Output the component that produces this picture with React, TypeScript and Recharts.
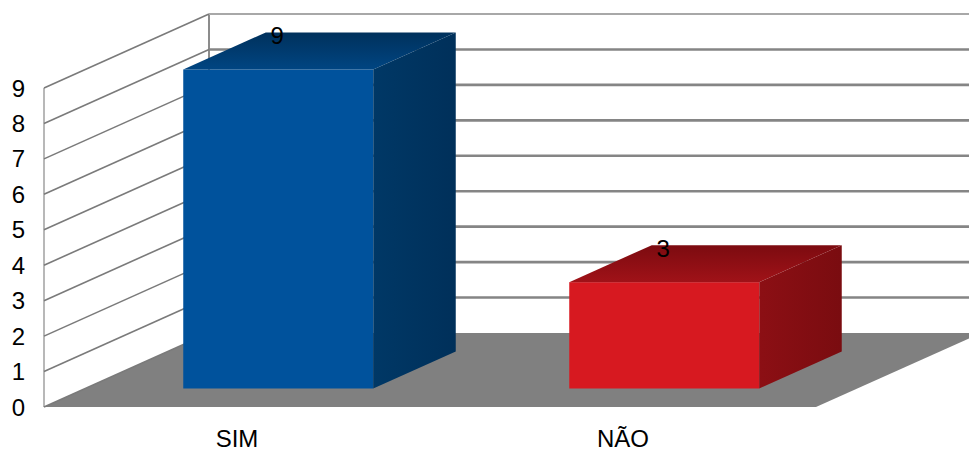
import React from "react";
import { BarChart, Bar, XAxis, YAxis, CartesianGrid } from "recharts";

const categories = ["SIM", "NÃO"];
const values = [9, 3];
const yTicks = [0, 1, 2, 3, 4, 5, 6, 7, 8, 9];

// face colours per bar: front, top (front->back), side
const BAR_COLORS = [
  { front: "#00529c", topA: "#004582", topB: "#00315c", sideA: "#003866", sideB: "#00305a" },
  { front: "#d71920", topA: "#a01218", topB: "#7c0b10", sideA: "#8c0f14", sideB: "#7a0c10" },
];

// oblique projection of the depth axis
const DEPTH_X = 165;
const DEPTH_Y = 74;
const BAR_FRONT = 0.25;
const BAR_BACK = 0.75;
const FONT = "'Liberation Sans', Arial, sans-serif";

const chartData = categories.map((name, i) => ({ name, value: values[i] }));

function renderGridLine(props: any) {
  const { x1, y1, x2, index, x, y, height } = props;
  const bx = x1 + DEPTH_X;
  const by = y1 - DEPTH_Y;
  const bottom = y + height;
  const isBottom = Math.abs(y1 - bottom) < 0.5;
  const isTop = Math.abs(y1 - y) < 0.5;
  return (
    <g key={`grid-${index}`}>
      {isBottom && (
        <>
          <polygon
            points={`${x1},${y1} ${x2},${y1} ${x2 + DEPTH_X},${by} ${bx},${by}`}
            fill="#808080"
          />
          <line x1={x} y1={y} x2={x} y2={bottom} stroke="#a0a0a0" strokeWidth={1.5} />
          <line x1={x + DEPTH_X} y1={y - DEPTH_Y} x2={x + DEPTH_X} y2={bottom - DEPTH_Y} stroke="#8c8c8c" strokeWidth={2} />
        </>
      )}
      <line x1={x1} y1={y1} x2={bx} y2={by} stroke="#7a7a7a" strokeWidth={1.6} />
      {!isBottom && (
        <line
          x1={bx}
          y1={by}
          x2={x2 + DEPTH_X}
          y2={by}
          stroke={isTop ? "#a8a8a8" : "#858585"}
          strokeWidth={isTop ? 1.8 : 2.6}
        />
      )}
    </g>
  );
}

function Bar3D(props: any) {
  const { x, y, width, height, index } = props;
  const c = BAR_COLORS[index % BAR_COLORS.length];
  const fx = x + DEPTH_X * BAR_FRONT;
  const fy = y - DEPTH_Y * BAR_FRONT;
  const dx = DEPTH_X * (BAR_BACK - BAR_FRONT);
  const dy = DEPTH_Y * (BAR_BACK - BAR_FRONT);
  return (
    <g>
      <rect x={fx} y={fy} width={width} height={height} fill={c.front} />
      <polygon
        points={`${fx},${fy} ${fx + width},${fy} ${fx + width + dx},${fy - dy} ${fx + dx},${fy - dy}`}
        fill={`url(#top-${index})`}
      />
      <polygon
        points={`${fx + width},${fy} ${fx + width + dx},${fy - dy} ${fx + width + dx},${fy - dy + height} ${fx + width},${fy + height}`}
        fill={`url(#side-${index})`}
      />
    </g>
  );
}

function renderValueLabel(props: any) {
  const { x, y, width, value } = props;
  const cx = x + width / 2 + DEPTH_X * BAR_FRONT - 1;
  const backTop = y - DEPTH_Y * BAR_BACK;
  return (
    <text x={cx} y={backTop + 11.5} textAnchor="middle" fontSize={24} fontFamily={FONT} fill="#000">
      {value}
    </text>
  );
}

export default function App() {
  return (
    <div style={{ width: 969, height: 452, background: "#fff" }}>
      <style>{"body{margin:0}"}</style>
      <BarChart
        width={969}
        height={452}
        data={chartData}
        margin={{ top: 88, right: 153, bottom: 0, left: 0 }}
        barCategoryGap={0}
      >
        <defs>
          {BAR_COLORS.map((c, i) => (
            <linearGradient key={`top-${i}`} id={`top-${i}`} x1="0" y1="1" x2="0" y2="0">
              <stop offset="0%" stopColor={c.topA} />
              <stop offset="100%" stopColor={c.topB} />
            </linearGradient>
          ))}
          {BAR_COLORS.map((c, i) => (
            <linearGradient key={`side-${i}`} id={`side-${i}`} x1="0" y1="0" x2="1" y2="0">
              <stop offset="0%" stopColor={c.sideA} />
              <stop offset="100%" stopColor={c.sideB} />
            </linearGradient>
          ))}
        </defs>
        <CartesianGrid vertical={false} horizontal={renderGridLine} />
        <XAxis
          dataKey="name"
          height={45}
          axisLine={false}
          tickLine={false}
          tickSize={0}
          tickMargin={23}
          tick={{ fill: "#000", fontSize: 24, fontFamily: FONT }}
        />
        <YAxis
          width={44}
          domain={[0, 9]}
          ticks={yTicks}
          interval={0}
          axisLine={false}
          tickLine={false}
          tickSize={0}
          tickMargin={19}
          tick={{ fill: "#000", fontSize: 24, fontFamily: FONT }}
        />
        <Bar
          dataKey="value"
          barSize={190}
          shape={Bar3D}
          label={renderValueLabel}
          isAnimationActive={false}
        />
      </BarChart>
    </div>
  );
}
